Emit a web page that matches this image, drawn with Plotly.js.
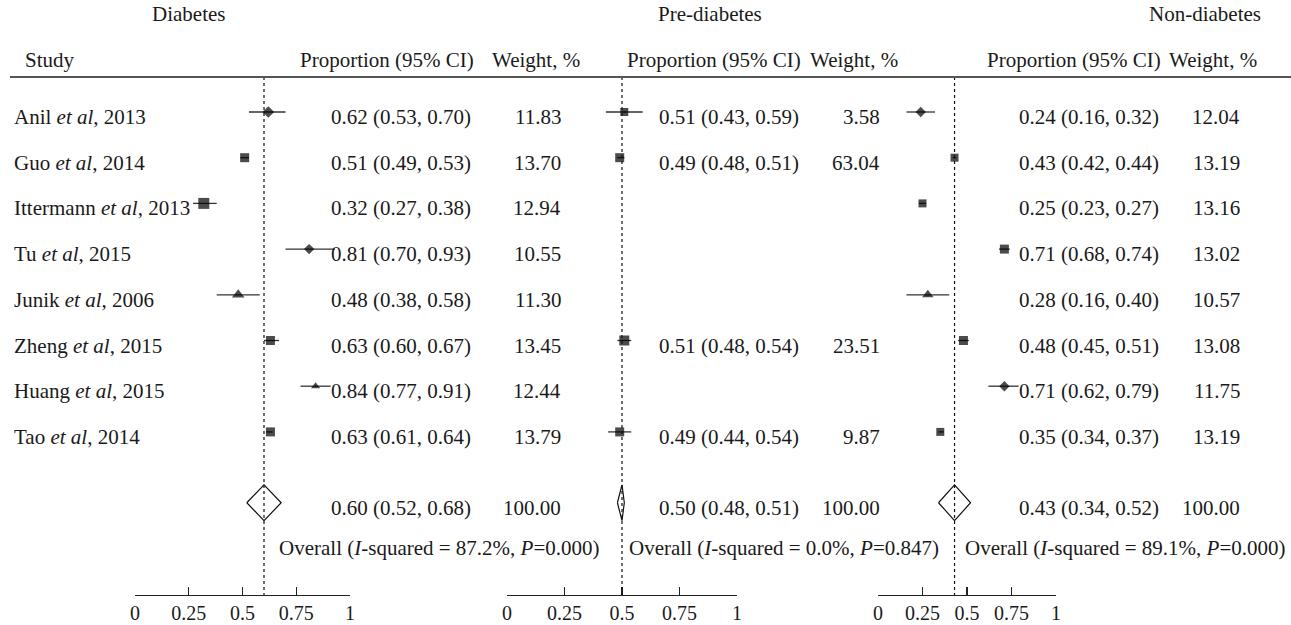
<!DOCTYPE html>
<html><head><meta charset="utf-8">
<script src="https://cdn.plot.ly/plotly-3.0.1.min.js"></script>
<style>html,body{margin:0;padding:0;background:#fff}</style>
</head><body><div id="chart" style="width:1291px;height:625px"></div>
<script>
// ---------- data ----------
const studyNames = ['Anil', 'Guo', 'Ittermann', 'Tu', 'Junik', 'Zheng', 'Huang', 'Tao'];
const studyYears = [2013, 2014, 2013, 2015, 2006, 2015, 2015, 2014];
const panelTitles = ['Diabetes', 'Pre-diabetes', 'Non-diabetes'];

const diabEst = [0.62, 0.51, 0.32, 0.81, 0.48, 0.63, 0.84, 0.63];
const diabLo  = [0.53, 0.49, 0.27, 0.70, 0.38, 0.60, 0.77, 0.61];
const diabHi  = [0.70, 0.53, 0.38, 0.93, 0.58, 0.67, 0.91, 0.64];
const diabWeight = [11.83, 13.70, 12.94, 10.55, 11.30, 13.45, 12.44, 13.79];
const diabPooled = [0.60, 0.52, 0.68];
const diabHet = ['87.2%', '0.000'];

const preEst = [0.51, 0.49, null, null, null, 0.51, null, 0.49];
const preLo  = [0.43, 0.48, null, null, null, 0.48, null, 0.44];
const preHi  = [0.59, 0.51, null, null, null, 0.54, null, 0.54];
const preWeight = [3.58, 63.04, null, null, null, 23.51, null, 9.87];
const prePooled = [0.50, 0.48, 0.51];
const preHet = ['0.0%', '0.847'];

const nonEst = [0.24, 0.43, 0.25, 0.71, 0.28, 0.48, 0.71, 0.35];
const nonLo  = [0.16, 0.42, 0.23, 0.68, 0.16, 0.45, 0.62, 0.34];
const nonHi  = [0.32, 0.44, 0.27, 0.74, 0.40, 0.51, 0.79, 0.37];
const nonWeight = [12.04, 13.19, 13.16, 13.02, 10.57, 13.08, 11.75, 13.19];
const nonPooled = [0.43, 0.34, 0.52];
const nonHet = ['89.1%', '0.000'];

const tickVals = [0, 0.25, 0.5, 0.75, 1];
const tickText = ['0', '0.25', '0.5', '0.75', '1'];

// ---------- styles (kept apart from data) ----------
const diabSymbols = ['diamond','square','square','diamond','triangle-up','square','triangle-up','square'];
const diabSizes   = [9, 9, 11, 8, 11, 9, 8, 9];
const preSymbols  = ['square','square',null,null,null,'square',null,'square'];
const preSizes    = [8, 9, 0, 0, 0, 10, 0, 9];
const nonSymbols  = ['diamond','square','square','square','triangle-up','square','diamond','square'];
const nonSizes    = [8, 8, 8, 9, 10, 9, 8, 8];

const W = 1291, H = 625;
const px = x => x / W;
const py = y => 1 - y / H;
const FONT = 'Liberation Serif, Times New Roman, serif';
const TXT = '#1a1a1a';
const FS = 21;

const rows = studyNames.map((_, i) => i + 1);
const pooledRow = 9.55;
const overallRow = 10.54;
const headRow = -0.14;
const titleRow = -1.14;
const diamondHalf = 0.39;
const textShift = -5;

const panels = [
  {est: diabEst, lo: diabLo, hi: diabHi, w: diabWeight, pooled: diabPooled, het: diabHet,
   sym: diabSymbols, size: diabSizes, ax: 'x', dom: [135, 350],
   title: 188, propHead: 298, wHead: 490, estX: 329, wX: 563, overallX: 277},
  {est: preEst, lo: preLo, hi: preHi, w: preWeight, pooled: prePooled, het: preHet,
   sym: preSymbols, size: preSizes, ax: 'x2', dom: [507, 737],
   title: 710, propHead: 625, wHead: 808, estX: 657, wX: 882, overallX: 627},
  {est: nonEst, lo: nonLo, hi: nonHi, w: nonWeight, pooled: nonPooled, het: nonHet,
   sym: nonSymbols, size: nonSizes, ax: 'x3', dom: [878, 1056],
   title: 1205, propHead: 985, wHead: 1167, estX: 1017, wX: 1242, overallX: 963}
];

const fmt = v => v.toFixed(2);
const traces = [];
const annotations = [];
const shapes = [];

const ann = (x, y, text, xanchor, extra) => Object.assign({
  xref: 'paper', yref: 'y', x: px(x), y: y, text: text, showarrow: false,
  xanchor: xanchor, yanchor: 'middle', font: {family: FONT, size: FS, color: TXT}
}, extra || {});

// study labels
annotations.push(ann(23, headRow, 'Study', 'left'));
studyNames.forEach((n, i) => {
  annotations.push(ann(12, rows[i], n + ' <i>et al</i>, ' + studyYears[i], 'left', {yshift: textShift}));
});

panels.forEach((p, k) => {
  const idx = p.est.map((v, i) => v === null ? null : i).filter(i => i !== null);
  // confidence intervals
  traces.push({
    type: 'scatter', mode: 'markers', xaxis: p.ax, yaxis: 'y',
    x: idx.map(i => p.est[i]), y: idx.map(i => rows[i]),
    marker: {size: 0.1, color: 'rgba(0,0,0,0)'},
    error_x: {type: 'data', symmetric: false,
      array: idx.map(i => p.hi[i] - p.est[i]), arrayminus: idx.map(i => p.est[i] - p.lo[i]),
      width: 0, thickness: 1.3, color: '#333'},
    hoverinfo: 'skip', showlegend: false, cliponaxis: false
  });
  // point estimates
  traces.push({
    type: 'scatter', mode: 'markers', xaxis: p.ax, yaxis: 'y',
    x: idx.map(i => p.est[i]), y: idx.map(i => rows[i]),
    marker: {symbol: idx.map(i => p.sym[i]), size: idx.map(i => p.size[i]), color: '#000', line: {width: 0}},
    hoverinfo: 'skip', showlegend: false, cliponaxis: false
  });
  // pooled diamond
  const [pe, pl, ph] = p.pooled;
  traces.push({
    type: 'scatter', mode: 'lines', xaxis: p.ax, yaxis: 'y',
    x: [pl, pe, ph, pe, pl], y: [pooledRow, pooledRow - diamondHalf, pooledRow, pooledRow + diamondHalf, pooledRow],
    line: {color: '#111', width: 1.2}, hoverinfo: 'skip', showlegend: false, cliponaxis: false
  });
  // dotted line at pooled estimate
  shapes.push({type: 'line', xref: p.ax, yref: 'paper', x0: pe, x1: pe, y0: py(77), y1: py(595),
    line: {color: '#111', width: 1.2, dash: 'dot'}});

  // texts
  annotations.push(ann(p.title, titleRow, panelTitles[k], 'center'));
  annotations.push(ann(p.propHead, headRow, 'Proportion (95% CI)', 'left'));
  annotations.push(ann(p.wHead, headRow, 'Weight, %', 'left'));
  idx.forEach(i => {
    annotations.push(ann(p.estX, rows[i], fmt(p.est[i]) + ' (' + fmt(p.lo[i]) + ', ' + fmt(p.hi[i]) + ')', 'left', {yshift: textShift}));
    annotations.push(ann(p.wX, rows[i], fmt(p.w[i]), 'right', {yshift: textShift}));
  });
  annotations.push(ann(p.estX, pooledRow, fmt(pe) + ' (' + fmt(pl) + ', ' + fmt(ph) + ')', 'left', {yshift: textShift}));
  annotations.push(ann(p.wX, pooledRow, (100).toFixed(2), 'right', {yshift: textShift}));
  annotations.push(ann(p.overallX, overallRow,
    'Overall (<i>I</i>-squared = ' + p.het[0] + ', <i>P</i>=' + p.het[1] + ')', 'left'));
});

// header rule
shapes.push({type: 'line', xref: 'paper', yref: 'paper', x0: px(10), x1: 1, y0: py(77), y1: py(77),
  line: {color: '#555', width: 2}});

const xaxisBase = dom => ({
  domain: [px(dom[0]), px(dom[1])], range: [0, 1], anchor: 'free', position: py(595),
  showgrid: false, zeroline: false, showline: true, linecolor: '#222', linewidth: 1.3,
  ticks: 'inside', ticklen: 8, tickwidth: 1.3, tickcolor: '#222',
  tickvals: tickVals, ticktext: tickText,
  tickfont: {family: FONT, size: 20, color: TXT}, fixedrange: true
});

const layout = {
  width: W, height: H, autosize: false,
  margin: {l: 0, r: 0, t: 0, b: 0},
  paper_bgcolor: '#fff', plot_bgcolor: 'rgba(0,0,0,0)',
  showlegend: false,
  xaxis: xaxisBase(panels[0].dom),
  xaxis2: xaxisBase(panels[1].dom),
  xaxis3: xaxisBase(panels[2].dom),
  yaxis: {domain: [0, 1], range: [1 + (H - 112) / 45.7, 1 - 112 / 45.7], visible: false, fixedrange: true},
  annotations: annotations, shapes: shapes
};

Plotly.newPlot('chart', traces, layout, {displayModeBar: false, staticPlot: true});
</script></body></html>
